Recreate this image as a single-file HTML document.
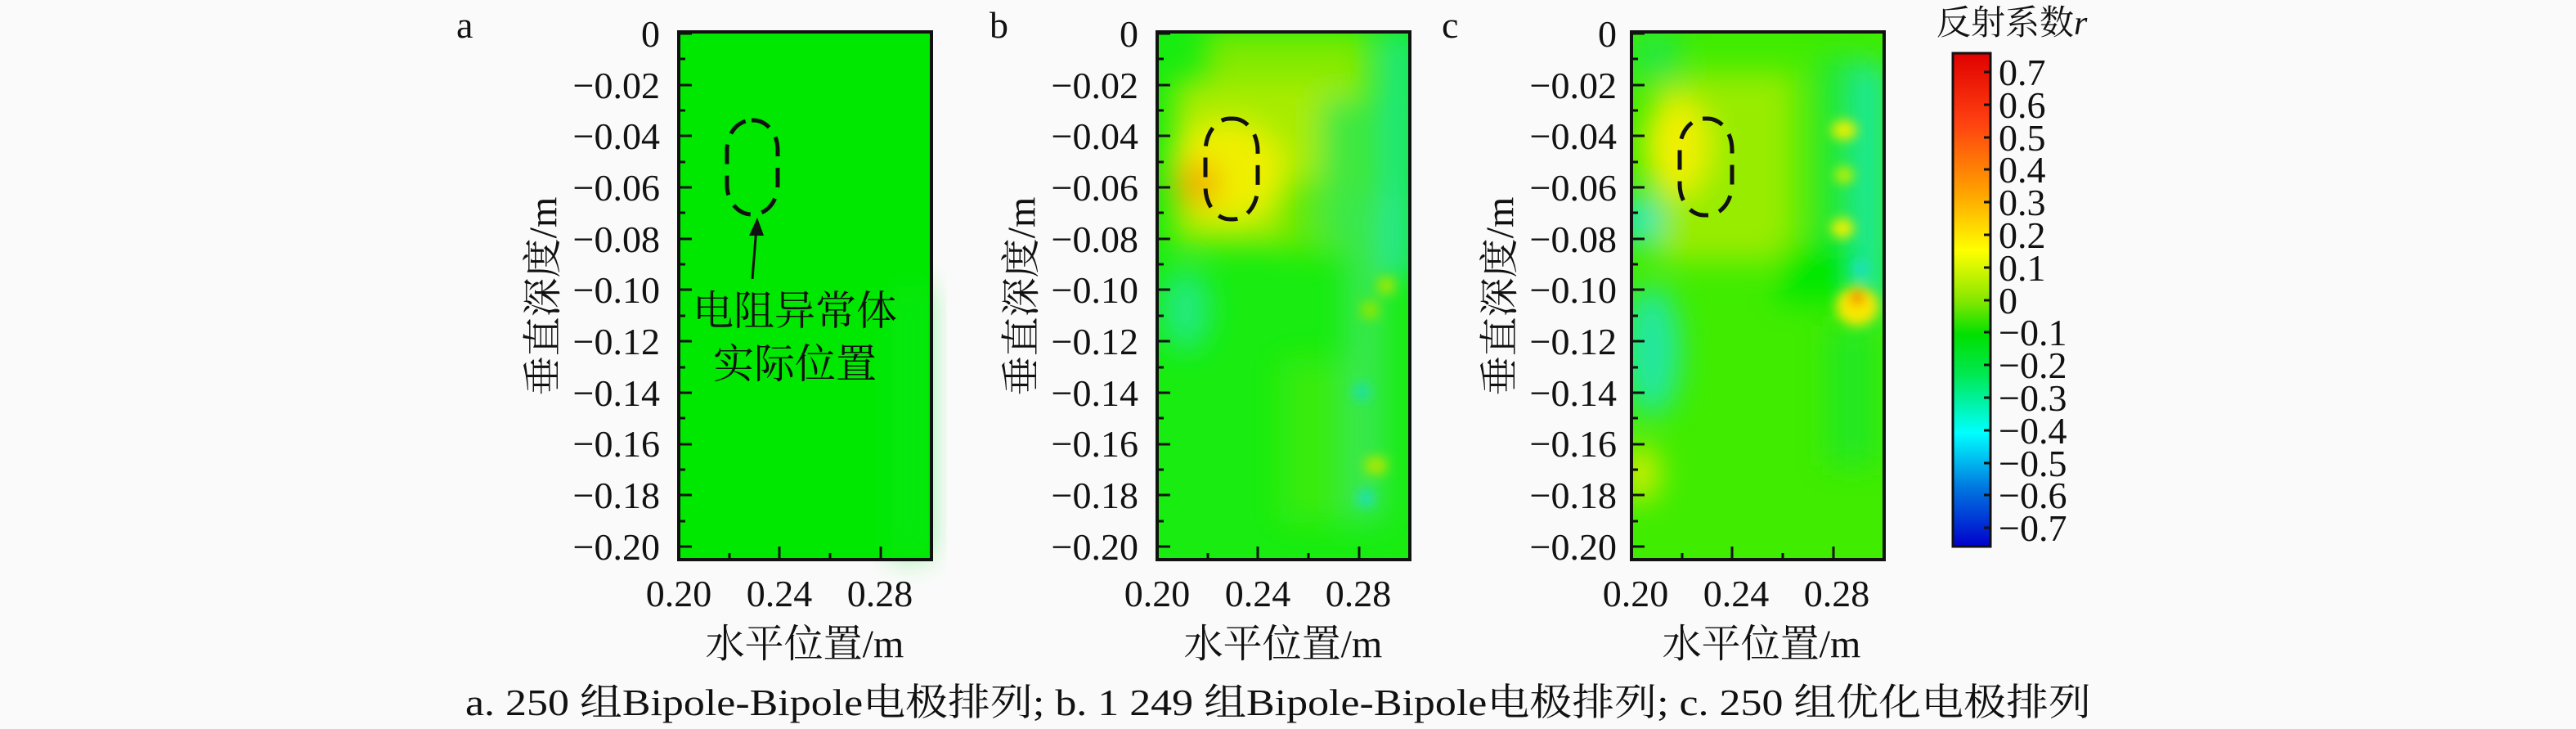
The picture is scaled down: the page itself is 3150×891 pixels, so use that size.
<!DOCTYPE html>
<html><head><meta charset="utf-8"><style>
html,body{margin:0;padding:0;background:#fafafa;}
svg{display:block;}
text{font-family:"Liberation Serif","Noto Serif CJK SC",serif;fill:#111;}
</style></head><body>
<svg width="3150" height="891" viewBox="0 0 3150 891" xmlns="http://www.w3.org/2000/svg">
<defs>
<filter id="bl" x="-50%" y="-50%" width="200%" height="200%"><feGaussianBlur stdDeviation="18"/></filter>
<filter id="bs" x="-50%" y="-50%" width="200%" height="200%"><feGaussianBlur stdDeviation="7"/></filter>
<clipPath id="cb"><rect x="0" y="0" width="309" height="645"/></clipPath>
<linearGradient id="jet" x1="0" y1="0" x2="0" y2="1">
<stop offset="0" stop-color="#e00000"/>
<stop offset="0.14" stop-color="#ff4010"/>
<stop offset="0.28" stop-color="#ffa000"/>
<stop offset="0.4" stop-color="#ffff00"/>
<stop offset="0.5" stop-color="#88e800"/>
<stop offset="0.57" stop-color="#00e000"/>
<stop offset="0.65" stop-color="#00e850"/>
<stop offset="0.77" stop-color="#00ffff"/>
<stop offset="0.88" stop-color="#0078e0"/>
<stop offset="1" stop-color="#0000cc"/>
</linearGradient>
<g id="yt" stroke="#111" stroke-width="3">
<line x1="0" y1="41" x2="16" y2="41"/><line x1="0" y1="72" x2="8" y2="72"/>
<line x1="0" y1="104" x2="16" y2="104"/><line x1="0" y1="135" x2="8" y2="135"/>
<line x1="0" y1="166" x2="16" y2="166"/><line x1="0" y1="198" x2="8" y2="198"/>
<line x1="0" y1="229" x2="16" y2="229"/><line x1="0" y1="260" x2="8" y2="260"/>
<line x1="0" y1="292" x2="16" y2="292"/><line x1="0" y1="323" x2="8" y2="323"/>
<line x1="0" y1="354" x2="16" y2="354"/><line x1="0" y1="386" x2="8" y2="386"/>
<line x1="0" y1="417" x2="16" y2="417"/><line x1="0" y1="449" x2="8" y2="449"/>
<line x1="0" y1="480" x2="16" y2="480"/><line x1="0" y1="511" x2="8" y2="511"/>
<line x1="0" y1="543" x2="16" y2="543"/><line x1="0" y1="574" x2="8" y2="574"/>
<line x1="0" y1="605" x2="16" y2="605"/><line x1="0" y1="637" x2="8" y2="637"/>
<line x1="0" y1="668" x2="16" y2="668"/>
<line x1="62" y1="684" x2="62" y2="676"/><line x1="123" y1="684" x2="123" y2="668"/>
<line x1="185" y1="684" x2="185" y2="676"/><line x1="247" y1="684" x2="247" y2="668"/>
</g>
<g id="lab">
<g font-size="46" text-anchor="end">
<text x="0" y="57">0</text><text x="0" y="120">−0.02</text><text x="0" y="182">−0.04</text>
<text x="0" y="245">−0.06</text><text x="0" y="308">−0.08</text><text x="0" y="370">−0.10</text>
<text x="0" y="433">−0.12</text><text x="0" y="496">−0.14</text><text x="0" y="558">−0.16</text>
<text x="0" y="621">−0.18</text><text x="0" y="684">−0.20</text>
</g>
<g font-size="46" text-anchor="middle">
<text x="23" y="741">0.20</text><text x="146" y="741">0.24</text><text x="269" y="741">0.28</text>
</g>
<text x="177" y="803" font-size="48" text-anchor="middle">水平位置/m</text>
<text transform="translate(-143,362) rotate(-90)" font-size="48" text-anchor="middle" dy="16">垂直深度/m</text>
</g>
</defs>

<!-- Panel a -->
<text x="558" y="46" font-size="46">a</text>
<g transform="translate(807,0)"><use href="#lab"/></g>
<rect x="830" y="39" width="309" height="645" fill="#00e800"/>
<rect x="1090" y="350" width="45" height="330" fill="#10ea20" opacity="0.5" filter="url(#bl)"/>
<use href="#yt" transform="translate(830,0)"/>
<rect x="830" y="39" width="309" height="645" fill="none" stroke="#111" stroke-width="4"/>
<rect x="889" y="147" width="62" height="115" rx="30" ry="36" fill="none" stroke="#111" stroke-width="5" stroke-dasharray="24 14"/>
<line x1="920" y1="341" x2="925" y2="278" stroke="#111" stroke-width="3"/>
<polygon points="926,266 916,288 934,288" fill="#111"/>
<text x="972" y="397" font-size="50" text-anchor="middle">电阻异常体</text>
<text x="972" y="462" font-size="50" text-anchor="middle">实际位置</text>

<!-- Panel b -->
<text x="1210" y="46" font-size="46">b</text>
<g transform="translate(1392,0)"><use href="#lab"/></g>
<g transform="translate(1415,39)">
<g clip-path="url(#cb)">
<rect width="309" height="645" fill="#18ec10"/>
<g filter="url(#bl)">
<rect x="60" y="0" width="200" height="70" fill="#80ea00"/>
<rect x="20" y="60" width="230" height="200" fill="#a8ec00"/>
<rect x="150" y="180" width="120" height="90" fill="#60ea00"/>
<ellipse cx="85" cy="170" rx="70" ry="60" fill="#f0f000"/>
<ellipse cx="50" cy="185" rx="28" ry="28" fill="#f0b000"/>
<rect x="280" y="0" width="30" height="300" fill="#22e6a0"/>
<rect x="200" y="80" width="70" height="180" fill="#40e840"/>
<ellipse cx="35" cy="340" rx="30" ry="50" fill="#20ea80"/>
<rect x="150" y="400" width="120" height="200" fill="#38ec10"/>
<rect x="230" y="200" width="50" height="400" fill="#38e850"/>
</g>
<g filter="url(#bs)">
<rect x="250" y="330" width="20" height="20" fill="#90e800"/>
<rect x="240" y="430" width="20" height="20" fill="#20e0a0"/>
<rect x="255" y="520" width="25" height="20" fill="#b0e800"/>
<rect x="245" y="560" width="20" height="20" fill="#20e0b0"/>
<rect x="270" y="300" width="20" height="20" fill="#a0e800"/>
</g>
</g>
<use href="#yt" transform="translate(0,-39)"/>
</g>
<rect x="1415" y="39" width="309" height="645" fill="none" stroke="#111" stroke-width="4"/>
<rect x="1474" y="145" width="64" height="123" rx="30" ry="40" fill="none" stroke="#111" stroke-width="5" stroke-dasharray="24 14"/>

<!-- Panel c -->
<text x="1763" y="46" font-size="46">c</text>
<g transform="translate(1977,0)"><use href="#lab"/></g>
<g transform="translate(1995,39)">
<g clip-path="url(#cb)">
<rect width="309" height="645" fill="#40ec00"/>
<g filter="url(#bl)">
<rect x="30" y="50" width="170" height="230" fill="#98ec00"/>
<ellipse cx="55" cy="140" rx="40" ry="60" fill="#f0f000"/>
<ellipse cx="10" cy="230" rx="25" ry="30" fill="#10e8c0"/>
<ellipse cx="25" cy="390" rx="35" ry="80" fill="#20e8a0"/>
<rect x="280" y="40" width="30" height="300" fill="#18e8b0"/>
<rect x="230" y="30" width="50" height="280" fill="#20e840"/>
<rect x="180" y="260" width="90" height="70" fill="#00e800"/>
<ellipse cx="10" cy="540" rx="25" ry="35" fill="#d0ee00"/>
<rect x="0" y="0" width="60" height="60" fill="#20e840"/>
<rect x="240" y="360" width="60" height="170" fill="#20e820"/>
</g>
<g filter="url(#bs)">
<ellipse cx="276" cy="335" rx="26" ry="24" fill="#f8e800"/>
<ellipse cx="276" cy="325" rx="8" ry="8" fill="#f06000"/>
<ellipse cx="260" cy="120" rx="16" ry="12" fill="#e8f000"/>
<ellipse cx="260" cy="175" rx="12" ry="10" fill="#c0f000"/>
<ellipse cx="258" cy="240" rx="14" ry="12" fill="#f0f000"/>
<ellipse cx="280" cy="290" rx="10" ry="10" fill="#20e0c0"/>
</g>
</g>
<use href="#yt" transform="translate(0,-39)"/>
</g>
<rect x="1995" y="39" width="309" height="645" fill="none" stroke="#111" stroke-width="4"/>
<rect x="2054" y="145" width="64" height="118" rx="30" ry="38" fill="none" stroke="#111" stroke-width="5" stroke-dasharray="24 14"/>

<!-- Colorbar -->
<text x="2368" y="42" font-size="42">反射系数<tspan font-style="italic">r</tspan></text>
<rect x="2388" y="65" width="46" height="603" fill="url(#jet)" stroke="#111" stroke-width="3"/>
<g stroke="#111" stroke-width="3">
<line x1="2426" y1="88" x2="2434" y2="88"/><line x1="2426" y1="128" x2="2434" y2="128"/><line x1="2426" y1="168" x2="2434" y2="168"/>
<line x1="2426" y1="207" x2="2434" y2="207"/><line x1="2426" y1="247" x2="2434" y2="247"/><line x1="2426" y1="287" x2="2434" y2="287"/>
<line x1="2426" y1="327" x2="2434" y2="327"/><line x1="2426" y1="367" x2="2434" y2="367"/><line x1="2426" y1="406" x2="2434" y2="406"/>
<line x1="2426" y1="446" x2="2434" y2="446"/><line x1="2426" y1="486" x2="2434" y2="486"/><line x1="2426" y1="526" x2="2434" y2="526"/>
<line x1="2426" y1="566" x2="2434" y2="566"/><line x1="2426" y1="605" x2="2434" y2="605"/><line x1="2426" y1="645" x2="2434" y2="645"/>
</g>
<g font-size="46">
<text x="2444" y="104">0.7</text><text x="2444" y="144">0.6</text><text x="2444" y="184">0.5</text>
<text x="2444" y="223">0.4</text><text x="2444" y="263">0.3</text><text x="2444" y="303">0.2</text>
<text x="2444" y="343">0.1</text><text x="2444" y="383">0</text><text x="2444" y="422">−0.1</text>
<text x="2444" y="462">−0.2</text><text x="2444" y="502">−0.3</text><text x="2444" y="542">−0.4</text>
<text x="2444" y="582">−0.5</text><text x="2444" y="621">−0.6</text><text x="2444" y="661">−0.7</text>
</g>

<!-- Caption -->
<text x="569" y="874" font-size="46" textLength="1988" lengthAdjust="spacingAndGlyphs">a. 250 组Bipole-Bipole电极排列; b. 1 249 组Bipole-Bipole电极排列; c. 250 组优化电极排列</text>
</svg>
</body></html>
